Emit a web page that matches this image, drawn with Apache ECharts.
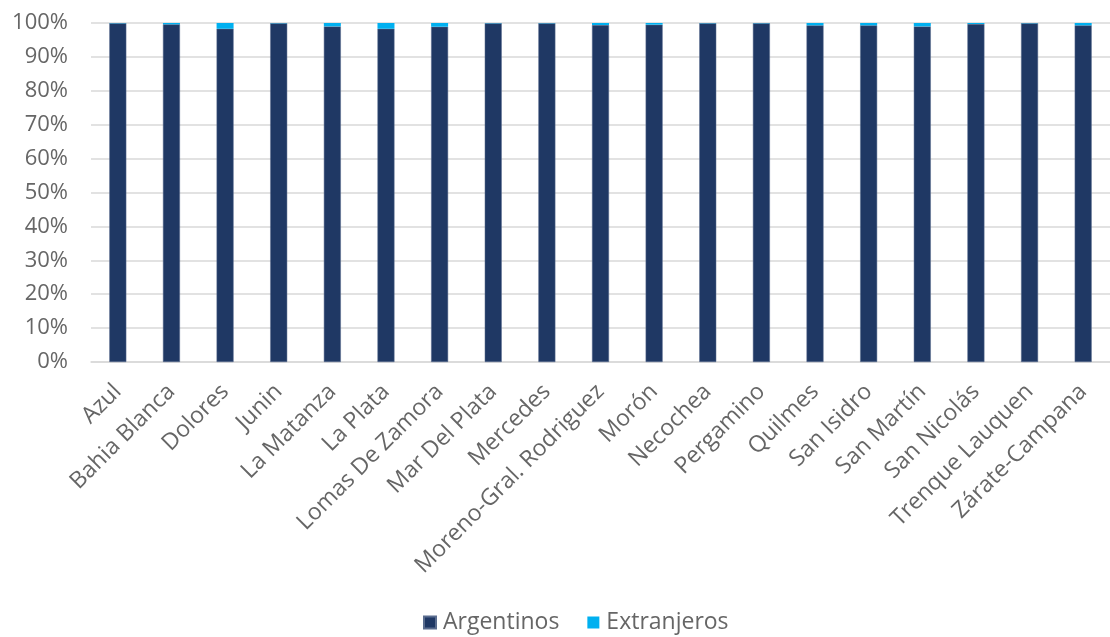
<!DOCTYPE html>
<html><head><meta charset="utf-8">
<script src="https://cdn.jsdelivr.net/npm/echarts@6/dist/echarts.min.js"></script>
<style>html,body{margin:0;padding:0;background:#fff}#c{width:1110px;height:637px}</style>
</head><body><div id="c"></div>
<script>
const categories = ["Azul","Bahia Blanca","Dolores","Junin","La Matanza","La Plata","Lomas De Zamora","Mar Del Plata","Mercedes","Moreno-Gral. Rodriguez","Morón","Necochea","Pergamino","Quilmes","San Isidro","San Martín","San Nicolás","Trenque Lauquen","Zárate-Campana"];
const extranjeros = [0.1,0.4,1.7,0.1,1.0,1.7,1.1,0.1,0.1,0.6,0.5,0.1,0.1,0.7,0.7,1.0,0.3,0.1,0.7];
const argentinos = [99.9,99.6,98.3,99.9,99.0,98.3,98.9,99.9,99.9,99.4,99.5,99.9,99.9,99.3,99.3,99.0,99.7,99.9,99.3];
const yTicks = [0,10,20,30,40,50,60,70,80,90,100];

const font = '"Open Sans", Lato, sans-serif';
const chart = echarts.init(document.getElementById('c'));
chart.setOption({
  animation:false,
  grid:{left:91, top:23, width:1029, height:339, containLabel:false},
  legend:{top:606, left:418, itemWidth:12, itemHeight:12, itemGap:28, icon:'rect',
    textStyle:{fontFamily:font, fontSize:23, color:'#666666', padding:[0,0,0,2]},
    data:['Argentinos','Extranjeros']},
  xAxis:{type:'category', data:categories,
    axisLine:{lineStyle:{color:'#d9d9d9', width:1.5}}, axisTick:{show:false},
    axisLabel:{rotate:45, interval:0, fontFamily:font, fontSize:23, color:'#666666', margin:26}},
  yAxis:{type:'value', min:0, max:100, interval:10,
    axisLabel:{formatter:v=>yTicks.includes(v)?v+'%':'', fontFamily:font, fontSize:22, color:'#666666', margin:23},
    splitLine:{lineStyle:{color:'#d9d9d9', width:1.5}}, axisLine:{show:false}, axisTick:{show:false}},
  series:[
    {name:'Argentinos', type:'bar', stack:'a', data:argentinos, barWidth:17,
      itemStyle:{color:'#1f3864', borderColor:'#5a6d8f', borderWidth:0.5}},
    {name:'Extranjeros', type:'bar', stack:'a', data:extranjeros, barWidth:17,
      itemStyle:{color:'#00b0f0'}}
  ]
});
</script></body></html>
